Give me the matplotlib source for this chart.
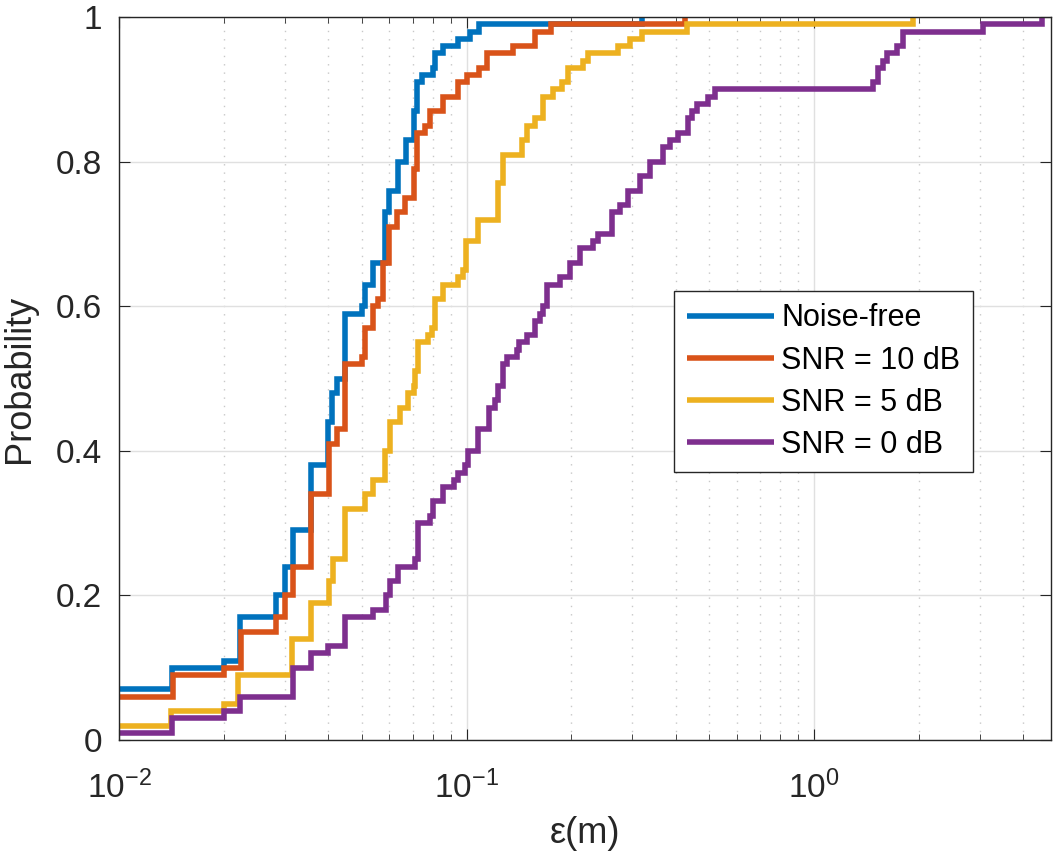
import matplotlib.pyplot as plt
from matplotlib.ticker import LogLocator, NullFormatter

plt.rcParams['font.family'] = ['Liberation Sans', 'DejaVu Sans']
plt.rcParams['mathtext.fontset'] = 'custom'
plt.rcParams['mathtext.rm'] = 'Liberation Sans'
plt.rcParams['mathtext.it'] = 'Liberation Sans'

# step positions (m) and CDF level after each step
free_x = [0.009, 0.0142, 0.0200, 0.0223, 0.0283, 0.0300, 0.0316, 0.0356, 0.0399, 0.0411,
          0.0423, 0.0447, 0.0499, 0.0510, 0.0537, 0.0583, 0.0598, 0.0636, 0.0670, 0.0706,
          0.0719, 0.0743, 0.0799, 0.0812, 0.0854, 0.0945, 0.1023, 0.1087, 0.319]
free_y = [0.07, 0.10, 0.11, 0.17, 0.20, 0.24, 0.29, 0.38, 0.44, 0.48,
          0.50, 0.59, 0.60, 0.63, 0.66, 0.73, 0.76, 0.80, 0.83, 0.87,
          0.91, 0.92, 0.93, 0.95, 0.96, 0.97, 0.98, 0.99, 1.00]

snr10_x = [0.009, 0.0143, 0.0200, 0.0224, 0.0283, 0.0300, 0.0316, 0.0358, 0.0403, 0.0423,
           0.0447, 0.0499, 0.0510, 0.0539, 0.0557, 0.0576, 0.0598, 0.0630, 0.0665, 0.0707,
           0.0719, 0.0759, 0.0785, 0.0854, 0.0947, 0.1005, 0.1087, 0.1148, 0.1364, 0.1574,
           0.1747, 0.4255]
snr10_y = [0.06, 0.09, 0.10, 0.15, 0.17, 0.20, 0.24, 0.34, 0.41, 0.43,
           0.52, 0.53, 0.57, 0.60, 0.61, 0.66, 0.71, 0.73, 0.75, 0.79,
           0.84, 0.85, 0.87, 0.89, 0.91, 0.92, 0.93, 0.95, 0.96, 0.98,
           0.99, 1.00]

snr5_x = [0.009, 0.0141, 0.0200, 0.0220, 0.0314, 0.0358, 0.0403, 0.0413, 0.0447, 0.0510,
          0.0539, 0.0583, 0.0602, 0.0644, 0.0677, 0.0707, 0.0711, 0.0727, 0.0776, 0.0794,
          0.0812, 0.0857, 0.0947, 0.0979, 0.0997, 0.1081, 0.1235, 0.1271, 0.1442, 0.1490,
          0.1574, 0.1663, 0.1778, 0.1879, 0.1963, 0.2160, 0.2242, 0.2735, 0.2955, 0.319,
          0.432, 1.931]
snr5_y = [0.02, 0.04, 0.05, 0.09, 0.14, 0.19, 0.22, 0.25, 0.32, 0.34,
          0.36, 0.40, 0.44, 0.46, 0.48, 0.49, 0.51, 0.55, 0.56, 0.57,
          0.61, 0.63, 0.64, 0.65, 0.69, 0.72, 0.77, 0.81, 0.83, 0.85,
          0.86, 0.89, 0.90, 0.91, 0.93, 0.94, 0.95, 0.96, 0.97, 0.98,
          0.99, 1.00]

snr0_x = [0.009, 0.0142, 0.0200, 0.0223, 0.0316, 0.0358, 0.0400, 0.0447, 0.0539, 0.0587,
          0.0602, 0.0636, 0.0711, 0.0727, 0.0785, 0.0803, 0.0854, 0.0920, 0.0947, 0.0990,
          0.1012, 0.1081, 0.1163, 0.1208, 0.1235, 0.1271, 0.1305, 0.1395, 0.1419, 0.1490,
          0.1574, 0.1627, 0.1657, 0.1701, 0.1858, 0.1985, 0.2122, 0.2317, 0.2395, 0.2617,
          0.2765, 0.292, 0.316, 0.3373, 0.3684, 0.3851, 0.4069, 0.4349, 0.4448, 0.4597,
          0.4964, 0.519, 1.481, 1.531, 1.582, 1.619, 1.730, 1.807, 3.070, 4.522]
snr0_y = [0.01, 0.03, 0.04, 0.06, 0.10, 0.12, 0.13, 0.17, 0.18, 0.20,
          0.22, 0.24, 0.25, 0.30, 0.31, 0.33, 0.35, 0.36, 0.37, 0.38,
          0.40, 0.43, 0.46, 0.47, 0.49, 0.52, 0.53, 0.54, 0.55, 0.56,
          0.58, 0.59, 0.60, 0.63, 0.64, 0.66, 0.68, 0.69, 0.70, 0.73,
          0.74, 0.76, 0.78, 0.80, 0.82, 0.83, 0.84, 0.86, 0.87, 0.88,
          0.89, 0.90, 0.91, 0.93, 0.94, 0.95, 0.96, 0.98, 0.99, 1.00]

labels = ['Noise-free', 'SNR = 10 dB', 'SNR = 5 dB', 'SNR = 0 dB']
colors = ['#0072BD', '#D95319', '#EDB120', '#7E2F8E']

fig = plt.figure(figsize=(10.53, 8.59), dpi=100)
ax = fig.add_axes([0.113, 0.1385, 0.885, 0.8415])

for xs, ys, lab, c in zip([free_x, snr10_x, snr5_x, snr0_x],
                          [free_y, snr10_y, snr5_y, snr0_y], labels, colors):
    ax.step(xs, ys, where='post', color=c, lw=4, label=lab,
            solid_joinstyle='miter', solid_capstyle='butt')

ax.set_xscale('log')
ax.set_xlim(0.01, 4.8)
ax.set_ylim(0, 1)
ax.set_yticks([0, 0.2, 0.4, 0.6, 0.8, 1])
ax.set_yticklabels(['0', '0.2', '0.4', '0.6', '0.8', '1'])
ax.xaxis.set_major_locator(LogLocator(base=10, numticks=10))
ax.xaxis.set_minor_locator(LogLocator(base=10, subs=range(2, 10), numticks=20))
ax.xaxis.set_minor_formatter(NullFormatter())

ax.grid(True, which='major', color='#e0e0e0', lw=1)
ax.grid(True, which='minor', axis='x', color='#c8c8c8', ls=(0, (1, 5)), lw=1)
ax.set_axisbelow(True)
ax.tick_params(which='both', direction='in', top=True, right=True, labelsize=24,
               color='#262626', labelcolor='#262626')
ax.tick_params(which='major', length=8)
ax.tick_params(axis='y', pad=12)
ax.tick_params(axis='x', pad=22)
ax.tick_params(which='minor', length=4)
for s in ax.spines.values():
    s.set_color('#262626')
    s.set_linewidth(1)

ax.set_xlabel('ε(m)', fontsize=26, color='#262626', labelpad=8)
ax.set_ylabel('Probability', fontsize=26, color='#262626', labelpad=14)

leg = ax.legend(loc='upper left', bbox_to_anchor=(0.596, 0.621), borderaxespad=0,
                fontsize=22, frameon=True, fancybox=False, edgecolor='#262626',
                framealpha=1, handlelength=2.85, borderpad=0.4, labelspacing=0.4,
                handletextpad=0.25)
leg.get_frame().set_linewidth(1)

fig.savefig('out.png', dpi=100)
